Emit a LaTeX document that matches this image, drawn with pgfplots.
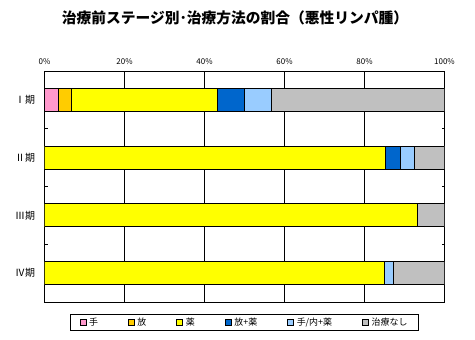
\documentclass[border=0pt]{standalone}
\usepackage{fontspec}
\setmainfont{Noto Sans CJK JP}
\usepackage{pgfplots}
\pgfplotsset{compat=1.18}
\definecolor{cPink}{HTML}{FF99CC}
\definecolor{cOrange}{HTML}{FFCC00}
\definecolor{cYellow}{HTML}{FFFF00}
\definecolor{cBlue}{HTML}{0066CC}
\definecolor{cLBlue}{HTML}{99CCFF}
\definecolor{cGray}{HTML}{C0C0C0}
\begin{document}
\begin{tikzpicture}[x=1bp,y=1bp]
\path[use as bounding box] (0,0) rectangle (475,339);
\node[font=\bfseries\fontsize{14.8}{15}\selectfont] at (235,321) {治療前ステージ別･治療方法の割合（悪性リンパ腫）};
\begin{axis}[
  at={(44.5bp,37bp)}, anchor=south west,
  scale only axis, width=400bp, height=231bp,
  xbar stacked, bar width=23bp,
  xmin=0, xmax=100, ymin=-0.5, ymax=3.5,
  y dir=reverse,
  axis line style={black, line width=0.8pt},
  /pgf/number format/assume math mode=true,
  xtick={0,20,40,60,80,100},
  xticklabel pos=top,
  xticklabel={\pgfmathprintnumber{\tick}\%},
  xticklabel style={font=\fontsize{8}{8}\selectfont, yshift=3bp},
  x tick style={draw=none},
  xmajorgrids, grid style={black, line width=0.8pt},
  ytick={-0.5,0.5,1.5,2.5,3.5},
  y tick label as interval,
  yticklabels={Ⅰ期,Ⅱ期,Ⅲ期,Ⅳ期},
  yticklabel style={font=\fontsize{10}{10}\selectfont, xshift=-6bp},
  y tick style={draw=black, line width=0.8pt},
  tick align=inside, major tick length=3bp,
  legend columns=6,
  legend style={at={(0.5,-0.052)}, anchor=north, draw=black, line width=0.6pt,
    font=\fontsize{9}{9}\selectfont, inner xsep=9bp, inner ysep=1.5bp,
    /tikz/every odd column/.append style={column sep=1bp},
    /tikz/every even column/.append style={column sep=28bp}},
  legend image code/.code={\draw[#1, line width=0.5pt] (0bp,-3bp) rectangle (6bp,3bp);},
  every axis plot/.append style={draw=black, line width=0.8pt},
]
\addplot[fill=cPink] coordinates {(3.5,0) (0,1) (0,2) (0,3)};
\addplot[fill=cOrange] coordinates {(3.2,0) (0,1) (0,2) (0,3)};
\addplot[fill=cYellow] coordinates {(36.5,0) (85.2,1) (93.2,2) (85.0,3)};
\addplot[fill=cBlue] coordinates {(6.8,0) (3.8,1) (0,2) (0,3)};
\addplot[fill=cLBlue] coordinates {(6.7,0) (3.5,1) (0,2) (2.2,3)};
\addplot[fill=cGray] coordinates {(43.3,0) (7.5,1) (6.8,2) (12.8,3)};
\legend{手,放,薬,放+薬,手/内+薬,治療なし}
\end{axis}
\end{tikzpicture}
\end{document}
